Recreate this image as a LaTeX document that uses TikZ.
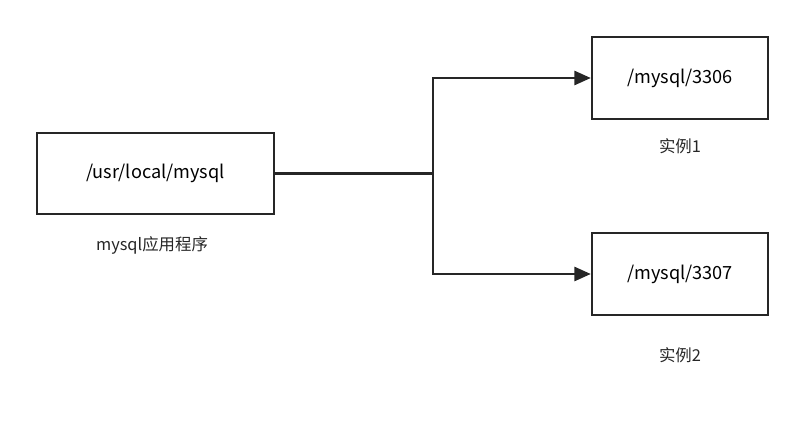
\documentclass[tikz,border=0pt]{standalone}
\usepackage{fontspec}
\setmainfont{Noto Sans CJK SC}
\usetikzlibrary{arrows.meta}
\begin{document}
\begin{tikzpicture}[x=0.03cm,y=-0.03cm,
  box/.style={draw=black!85,line width=2pt,minimum width=237*0.03cm,minimum height=81*0.03cm,font=\fontsize{15.5}{18}\selectfont},
  inst/.style={box,minimum width=176*0.03cm,minimum height=82*0.03cm},
  lbl/.style={font=\fontsize{14}{16}\selectfont,text=black!85},
  link/.style={draw=black!85,line width=2pt,-{Triangle[length=14pt,width=12pt]}}]
   \useasboundingbox (0,0) rectangle (805,421);
   \node[box] (app) at (155.5,173.5) {/usr/local/mysql};
   \node[inst] (i1) at (680,78) {/mysql/3306};
   \node[inst] (i2) at (680,274) {/mysql/3307};
   \node[lbl] (appl) at (152,245) {mysql应用程序};
   \node[lbl] (i1l) at (680,146) {实例1};
   \node[lbl] (i2l) at (680,355) {实例2};
   \coordinate (split) at (433,173.5);
   \draw[draw=black!85,line width=2pt] (app) -- (split);
   \draw[link] (split) |- (i1);
   \draw[link] (split) |- (i2);
\end{tikzpicture}
\end{document}
